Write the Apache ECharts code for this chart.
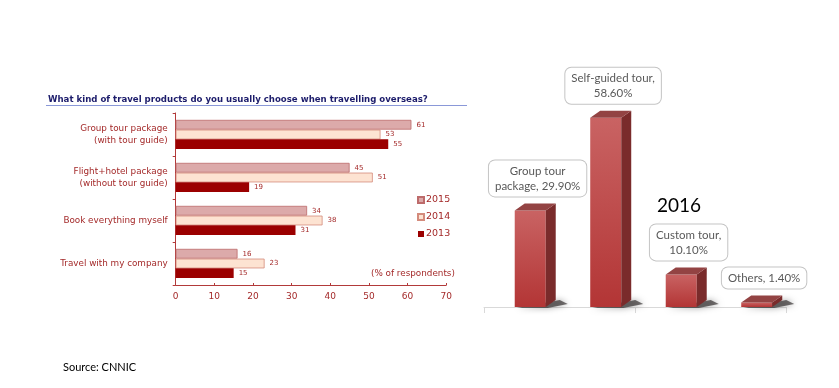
<!DOCTYPE html>
<html><head><meta charset="utf-8">
<script src="https://cdn.jsdelivr.net/npm/echarts@6/dist/echarts.min.js"></script>
<style>html,body{margin:0;padding:0;background:#fff}#c{width:839px;height:388px}</style>
</head><body><div id="c"></div>
<script>
// ---- Left chart data ----
const categories = ['Group tour package\n(with tour guide)', 'Flight+hotel package\n(without tour guide)', 'Book everything myself', 'Travel with my company'];
const years = ['2015', '2014', '2013'];
const v2015 = [61, 45, 34, 16];
const v2014 = [53, 51, 38, 23];
const v2013 = [55, 19, 31, 15];
const xTicks = [0, 10, 20, 30, 40, 50, 60, 70];

// ---- Right chart data ----
const types2016 = ['Group tour\npackage', 'Self-guided tour', 'Custom tour', 'Others'];
const share2016 = [29.9, 58.6, 10.1, 1.4];
const breakAfterComma = [false, true, true, false];

const RED_TXT = '#a42a2a';
const chart = echarts.init(document.getElementById('c'), null, {renderer: 'canvas'});

function labelText(i) {
  return types2016[i] + (breakAfterComma[i] ? ',\n' : ', ') + share2016[i].toFixed(2) + '%';
}

const option = {
  backgroundColor: '#fff',
  animation: false,
  title: [
    {text: 'What kind of travel products do you usually choose when travelling overseas?', left: 48, top: 95, padding: 0,
     textStyle: {fontFamily: 'DejaVu Sans', fontWeight: 'bold', fontSize: 8.6, color: '#1c1c6b'}},
    {text: '(% of respondents)', left: 371, top: 269, padding: 0,
     textStyle: {fontFamily: 'DejaVu Sans', fontWeight: 'normal', fontSize: 8.8, color: RED_TXT}},
    {text: '2016', left: 657, top: 196, padding: 0,
     textStyle: {fontFamily: 'Lato', fontWeight: 'normal', fontSize: 19, color: '#000'}},
    {text: 'Source: CNNIC', left: 63, top: 362, padding: 0,
     textStyle: {fontFamily: 'Lato', fontWeight: 'normal', fontSize: 11, color: '#000'}}
  ],
  graphic: [
    {type: 'line', shape: {x1: 46, y1: 105.5, x2: 467, y2: 105.5}, style: {stroke: '#8a98d8', lineWidth: 1.2}}
  ],
  legend: {
    data: years, orient: 'vertical', left: 417, top: 195, itemWidth: 6, itemHeight: 6, itemGap: 7,
    icon: 'rect', padding: 0,
    textStyle: {fontFamily: 'DejaVu Sans', fontSize: 9.5, color: RED_TXT, padding: [0, 0, 0, -3]}
  },
  grid: [
    {left: 175.7, top: 113, width: 270.5, height: 172},
    {left: 484, top: 80.9, width: 302, height: 226.1}
  ],
  xAxis: [
    {type: 'value', gridIndex: 0, min: xTicks[0], max: xTicks[xTicks.length - 1], interval: 10,
     axisLine: {show: true, lineStyle: {color: '#b23a3a', width: 1}},
     axisTick: {show: true, inside: true, length: 2, lineStyle: {color: '#b23a3a'}},
     splitLine: {show: false},
     axisLabel: {fontFamily: 'DejaVu Sans', fontSize: 9, color: RED_TXT, margin: 7}},
    {type: 'category', gridIndex: 1, data: types2016, offset: 5,
     axisLine: {show: true, lineStyle: {color: '#d9d9d9', width: 1}},
     axisTick: {show: true, length: 6, lineStyle: {color: '#d9d9d9'}},
     axisLabel: {show: false}, splitLine: {show: false}}
  ],
  yAxis: [
    {type: 'category', gridIndex: 0, data: categories, inverse: true,
     axisLine: {show: true, lineStyle: {color: '#b23a3a', width: 1}},
     axisTick: {show: true, length: 3, lineStyle: {color: '#b23a3a'}},
     axisLabel: {fontFamily: 'DejaVu Sans', fontSize: 8.8, color: RED_TXT, margin: 8, lineHeight: 12, align: 'right'}},
    {type: 'value', gridIndex: 1, min: 0, max: 70, show: false, splitLine: {show: false}}
  ],
  series: [
    {name: '2015', type: 'bar', xAxisIndex: 0, yAxisIndex: 0, data: v2015,
     barGap: '0%', barCategoryGap: '32%',
     itemStyle: {color: '#dcaaaa', borderColor: '#bd6b6b', borderWidth: 0.8},
     label: {show: true, position: 'right', distance: 5, fontFamily: 'DejaVu Sans', fontSize: 7, color: RED_TXT}},
    {name: '2014', type: 'bar', xAxisIndex: 0, yAxisIndex: 0, data: v2014,
     barGap: '0%', barCategoryGap: '32%',
     itemStyle: {color: '#fde3d2', borderColor: '#d48b7c', borderWidth: 0.8},
     label: {show: true, position: 'right', distance: 5, fontFamily: 'DejaVu Sans', fontSize: 7, color: RED_TXT}},
    {name: '2013', type: 'bar', xAxisIndex: 0, yAxisIndex: 0, data: v2013,
     barGap: '0%', barCategoryGap: '32%',
     itemStyle: {color: '#9b0000'},
     label: {show: true, position: 'right', distance: 5, fontFamily: 'DejaVu Sans', fontSize: 7, color: RED_TXT}},
    {name: 'share2016', type: 'custom', xAxisIndex: 1, yAxisIndex: 1,
     data: share2016.map((v, i) => [i, v]),
     renderItem: function (params, api) {
       const idx = api.value(0);
       const base = api.coord([idx, 0]);
       const topP = api.coord([idx, api.value(1)]);
       const band = api.size([1, 0])[0];
       const cx = base[0];
       const b = base[1];
       const t = topP[1];
       const fl = cx - band * 0.093, fr = cx + band * 0.318, sr = cx + band * 0.45;
       const dy = 7;
       return {
         type: 'group',
         children: [
           {type: 'polygon', shape: {points: [[fl + 2, b + 1], [fr + 2, b + 1], [sr + 12, b - 3], [sr + 4, b - dy]]},
            style: {fill: 'rgba(25,20,20,0.6)', shadowBlur: 6, shadowColor: 'rgba(0,0,0,0.6)'}},
           {type: 'rect', shape: {x: fl, y: t, width: fr - fl, height: b - t},
            style: {fill: new echarts.graphic.LinearGradient(0, 0, 0, 1, [{offset: 0, color: '#c96363'}, {offset: 1, color: '#b33535'}])}},
           {type: 'polygon', shape: {points: [[fr, t], [sr, t - dy], [sr, b - dy], [fr, b]]},
            style: {fill: '#7a2b2b'}},
           {type: 'polygon', shape: {points: [[fl, t], [fl + (sr - fr), t - dy], [sr, t - dy], [fr, t]]},
            style: {fill: '#934343'}},
           {type: 'text', style: {text: labelText(idx), x: cx + band * 0.21, y: t - dy - 7,
             align: 'center', verticalAlign: 'bottom', fontFamily: 'Lato', fontSize: 11.5, lineHeight: 15,
             fill: '#595959', backgroundColor: '#fff', borderColor: '#c4c4c4', borderWidth: 1, borderRadius: 6,
             padding: [3, 6, 3, 6]}}
         ]
       };
     }}
  ]
};
chart.setOption(option);
</script></body></html>
